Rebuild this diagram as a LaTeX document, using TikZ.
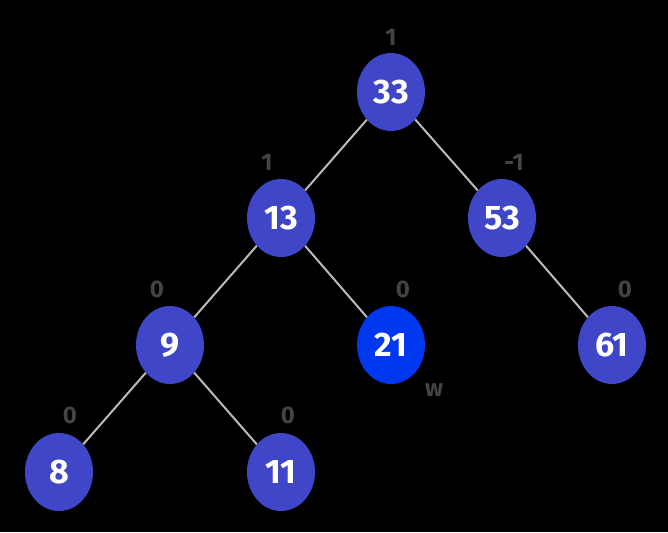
\documentclass[tikz,border=0pt]{standalone}
\usepackage{fontspec}
\setmainfont{Fira Sans}
\usetikzlibrary{shapes.geometric}
\definecolor{nodeblue}{HTML}{4046C8}
\definecolor{hiblue}{HTML}{0038F0}
\definecolor{lab}{HTML}{444444}
\definecolor{edge}{HTML}{BBBBBB}
\tikzset{
  tn/.style={ellipse,fill=nodeblue,minimum width=68pt,minimum height=78pt,inner sep=0pt,text=white,font=\fontsize{34}{34}\selectfont\bfseries},
  hn/.style={tn,fill=hiblue},
  lb/.style={text=lab,font=\fontsize{24}{24}\selectfont\bfseries,inner sep=0pt},
  ed/.style={draw=edge,line width=2pt}
}
\begin{document}
\begin{tikzpicture}[x=1pt,y=-1pt]
\fill[black] (0,0) rectangle (668,532);
\useasboundingbox (0,0) rectangle (668,532);
\node[tn] (n33) at (391,92) {33};
\node[tn] (n13) at (281,218) {13};
\node[tn] (n53) at (502,218) {53};
\node[tn] (n9) at (170,345) {9};
\node[hn] (n21) at (391,345) {21};
\node[tn] (n61) at (612,345) {61};
\node[tn] (n8) at (59,472) {8};
\node[tn] (n11) at (281,472) {11};
\begin{scope}[on background layer/.style={}]
\end{scope}
\path[ed] (n33) -- (n13);
\path[ed] (n33) -- (n53);
\path[ed] (n13) -- (n9);
\path[ed] (n13) -- (n21);
\path[ed] (n53) -- (n61);
\path[ed] (n9) -- (n8);
\path[ed] (n9) -- (n11);
\node[lb] (l33) at (391,37) {1};
\node[lb] (l13) at (267,162) {1};
\node[lb] (l53) at (514,162) {-1};
\node[lb] (l9) at (157,289) {0};
\node[lb] (l21) at (403,289) {0};
\node[lb] (l61) at (625,289) {0};
\node[lb] (l8) at (70,415) {0};
\node[lb] (l11) at (288,415) {0};
\node[lb] (w) at (434,390) {w};
\end{tikzpicture}
\end{document}
